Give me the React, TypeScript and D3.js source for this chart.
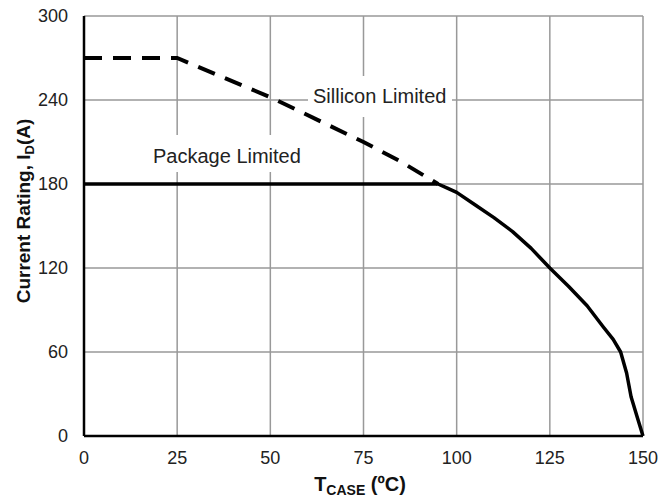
import React from "react";
import * as d3 from "d3";

const xTicks = [0, 25, 50, 75, 100, 125, 150];
const yTicks = [0, 60, 120, 180, 240, 300];

const siliconT = [0, 25, 37.5, 50, 62.5, 75, 85, 95];
const siliconI = [270, 270, 256, 242, 226, 210, 196, 180];

const packageT = [0, 95, 97.5, 100, 105, 110, 115, 120, 125, 130, 135, 139.3, 142, 144, 145.6, 146.8, 148.5, 150];
const packageI = [180, 180, 177, 174, 165, 156, 146, 134, 120, 107, 93, 78, 69, 60, 45, 28, 13, 0];

const W = 660;
const H = 503;
const M = { left: 84, right: 17, top: 16, bottom: 67 };

export default function App() {
  const x = d3.scaleLinear().domain([0, 150]).range([M.left, W - M.right]);
  const y = d3.scaleLinear().domain([0, 300]).range([H - M.bottom, M.top]);
  const line = d3
    .line<[number, number]>()
    .x((d) => x(d[0]))
    .y((d) => y(d[1]))
    .curve(d3.curveLinear);
  const sil = siliconT.map((t, i) => [t, siliconI[i]] as [number, number]);
  const pkg = packageT.map((t, i) => [t, packageI[i]] as [number, number]);
  const font = "'Liberation Sans', Arial, sans-serif";
  const grid = "#999";
  return (
    <svg
      width={W}
      height={H}
      style={{ position: "absolute", left: 0, top: 0, background: "#fff" }}
      fontFamily={font}
    >
      <rect x={0} y={0} width={W} height={H} fill="#fff" />
      {xTicks.map((t) => (
        <line key={"gx" + t} x1={x(t)} x2={x(t)} y1={y(0)} y2={y(300)} stroke={grid} strokeWidth={1.5} />
      ))}
      {yTicks.map((t) => (
        <line key={"gy" + t} x1={x(0)} x2={x(150)} y1={y(t)} y2={y(t)} stroke={grid} strokeWidth={1.5} />
      ))}
      {/* label backgrounds */}
      <rect x={308} y={76} width={144} height={41} fill="#fff" />
      <rect x={146} y={135} width={162} height={37} fill="#fff" />
      <line x1={x(0)} x2={x(0)} y1={y(0)} y2={y(300)} stroke="#000" strokeWidth={2.5} />
      <line x1={x(0)} x2={x(150)} y1={y(0)} y2={y(0)} stroke="#000" strokeWidth={2.5} />
      <path d={line(sil) || ""} fill="none" stroke="#000" strokeWidth={4} strokeDasharray="18 11" />
      <path d={line(pkg) || ""} fill="none" stroke="#000" strokeWidth={3.5} strokeLinejoin="round" />
      <text x={313} y={103} fontSize={20} fill="#222">Sillicon Limited</text>
      <text x={153} y={163} fontSize={20} fill="#222">Package Limited</text>
      {yTicks.map((t) => (
        <text key={"ty" + t} x={68} y={y(t)} dy="0.35em" textAnchor="end" fontSize={18} fill="#222">
          {t}
        </text>
      ))}
      {xTicks.map((t) => (
        <text key={"tx" + t} x={x(t)} y={464} textAnchor="middle" fontSize={18} fill="#222">
          {t}
        </text>
      ))}
      <text x={360} y={491} textAnchor="middle" fontSize={20} fontWeight="bold" fill="#111">
        T<tspan fontSize={14} dy={4}>CASE</tspan>
        <tspan dy={-4}> (ºC)</tspan>
      </text>
      <text
        transform={`translate(30, 211) rotate(-90)`}
        textAnchor="middle"
        fontSize={19}
        fontWeight="bold"
        fill="#111"
      >
        Current Rating, I<tspan fontSize={13} dy={4}>D</tspan>
        <tspan dy={-4}>(A)</tspan>
      </text>
    </svg>
  );
}
